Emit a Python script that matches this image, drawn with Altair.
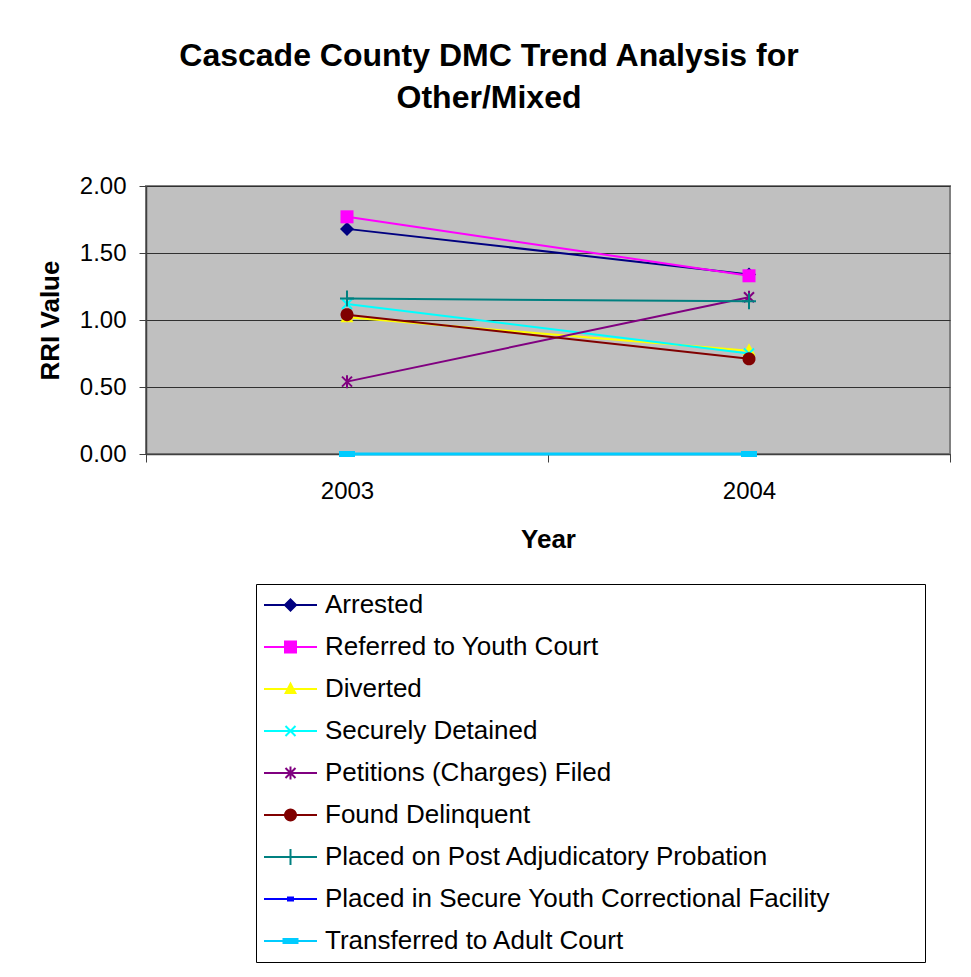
import math
import altair as alt
import pandas as pd

# ---------------- data ----------------
years = [2003, 2004]
series = [
    "Arrested",
    "Referred to Youth Court",
    "Diverted",
    "Securely Detained",
    "Petitions (Charges) Filed",
    "Found Delinquent",
    "Placed on Post Adjudicatory Probation",
    "Placed in Secure Youth Correctional Facility",
    "Transferred to Adult Court",
]
arrested = [1.68, 1.34]
referred = [1.77, 1.33]
diverted = [1.02, 0.77]
detained = [1.12, 0.75]
petitions = [0.54, 1.17]
delinquent = [1.04, 0.71]
probation = [1.16, 1.14]
secure_facility = [0.00, 0.00]
transferred = [0.00, 0.00]
series_values = [arrested, referred, diverted, detained, petitions,
                 delinquent, probation, secure_facility, transferred]
colors = ["#000080", "#FF00FF", "#FFFF00", "#00FFFF", "#800080",
          "#800000", "#008080", "#0000FF", "#00CCFF"]
line_widths = [2, 2, 2, 2, 2, 2, 2, 2, 3]

rows = []
for s, vals in zip(series, series_values):
    for yr, v in zip(years, vals):
        rows.append({"series": s, "year": yr, "value": v})
df = pd.DataFrame(rows)

FONT = "Liberation Sans"

# ---------------- marker geometry (pixel units) ----------------
def signed_area(pts):
    a = 0.0
    for i in range(len(pts)):
        x1, y1 = pts[i]
        x2, y2 = pts[(i + 1) % len(pts)]
        a += x1 * y2 - x2 * y1
    return a / 2


def norm(pts):
    return pts if signed_area(pts) < 0 else list(reversed(pts))


def seg(x1, y1, x2, y2, w):
    dx, dy = x2 - x1, y2 - y1
    L = math.hypot(dx, dy)
    nx, ny = -dy / L * w / 2, dx / L * w / 2
    return norm([(x1 + nx, y1 + ny), (x2 + nx, y2 + ny), (x2 - nx, y2 - ny), (x1 - nx, y1 - ny)])


def rect(hw, hh):
    return norm([(-hw, -hh), (hw, -hh), (hw, hh), (-hw, hh)])


def circ(r, n=28):
    return norm([(r * math.cos(2 * math.pi * k / n), r * math.sin(2 * math.pi * k / n)) for k in range(n)])


markers = [
    [norm([(0, -7), (7, 0), (0, 7), (-7, 0)])],
    [rect(6.5, 6.5)],
    [norm([(0, -7.5), (6.5, 5), (-6.5, 5)])],
    [seg(-5, -5, 5, 5, 2), seg(-5, 5, 5, -5, 2)],
    [seg(-5, -5, 5, 5, 2), seg(-5, 5, 5, -5, 2), seg(0, -6.5, 0, 6.5, 2)],
    [circ(6.5)],
    [seg(-7, 0, 7, 0, 2), seg(0, -8, 0, 8, 2)],
    [rect(3.5, 2.5)],
    [rect(8, 3)],
]


def to_path(polys, r):
    parts = []
    for p in polys:
        parts.append("M" + "L".join(f"{x / r:.4f},{y / r:.4f}" for x, y in p) + "Z")
    return "".join(parts)


PLOT_SIZE = 400           # r = 10 px
LEG_W = 53
LEG_SIZE = LEG_W ** 2     # r = 26.5 px
marker_paths = [to_path(m, math.sqrt(PLOT_SIZE) / 2) for m in markers]
legend_paths = [to_path([rect(LEG_W / 2, 1.1)] + m, LEG_W / 2) for m in markers]

# ---------------- axes ----------------
x_axis = alt.Axis(
    values=[2002.5, 2003, 2003.5, 2004, 2004.5],
    labelExpr="datum.value % 1 == 0 ? format(datum.value, 'd') : ''",
    tickOpacity={"condition": {"test": "datum.value % 1 == 0", "value": 0}, "value": 1},
    grid=False, labelOverlap=False, labelFlush=False,
    tickSize=8, tickColor="#404040", domainColor="#404040", domainWidth=1.5,
    labelFontSize=24, labelPadding=17, labelColor="black", labelFont=FONT,
    titleFontSize=26, titleFontWeight="bold", titlePadding=23, titleColor="black", titleFont=FONT,
)
y_axis = alt.Axis(
    values=[0, 0.5, 1, 1.5, 2], format=".2f",
    grid=True, gridColor="#303030", gridWidth=1,
    tickSize=7, tickColor="#404040", domainColor="#404040", domainWidth=1.5,
    labelFontSize=24, labelPadding=13, labelColor="black", labelFont=FONT, labelFlush=False,
    titleFontSize=26, titleFontWeight="bold", titlePadding=16, titleColor="black", titleFont=FONT,
)
x_enc = alt.X("year:Q", title="Year",
              scale=alt.Scale(domain=[2002.5, 2004.5], nice=False, zero=False), axis=x_axis)
y_enc = alt.Y("value:Q", title="RRI Value",
              scale=alt.Scale(domain=[0, 2], nice=False, zero=True), axis=y_axis)

base = alt.Chart(df)
layers = []
for s, c, mp, lw in zip(series, colors, marker_paths, line_widths):
    sub = base.transform_filter(alt.datum.series == s)
    layers.append(sub.mark_line(color=c, strokeWidth=lw).encode(x=x_enc, y=y_enc))
    layers.append(sub.mark_point(shape=mp, size=PLOT_SIZE, filled=True, color=c,
                                 strokeWidth=0, opacity=1).encode(x=x_enc, y=y_enc))

legend = alt.Legend(
    title="MMMM", titleOrient="right", titleFontSize=26, titleFontWeight="normal",
    titleColor="white", titlePadding=0, orient="none", legendX=110, legendY=398,
    symbolSize=LEG_SIZE, symbolStrokeWidth=0, labelFontSize=26, labelFont=FONT,
    labelColor="black", labelOffset=8, labelLimit=2000, clipHeight=26, rowPadding=16,
    padding=8, strokeColor="black", fillColor="white",
)
legend_layer = base.mark_point(filled=True, size=0, strokeWidth=0, opacity=1).encode(
    x=x_enc, y=y_enc,
    color=alt.Color("series:N", scale=alt.Scale(domain=series, range=colors), legend=legend),
    shape=alt.Shape("series:N", scale=alt.Scale(domain=series, range=legend_paths), legend=legend),
)
layers.append(legend_layer)

chart = alt.layer(*layers).properties(
    width=804, height=268,
    autosize=alt.AutoSizeParams(type="none"),
    padding={"left": 138, "top": 178, "right": 13, "bottom": 515},
    title=alt.Title(["Cascade County DMC Trend Analysis for", "Other/Mixed"],
                    fontSize=32, fontWeight="bold", font=FONT, color="black",
                    anchor="middle", dx=-59, offset=59, lineHeight=42),
).configure(
    background="white", font=FONT
).configure_view(
    fill="#C0C0C0", stroke="#808080", strokeWidth=2
)

chart.save("out.html", embed_options={"renderer": "svg", "actions": False})
